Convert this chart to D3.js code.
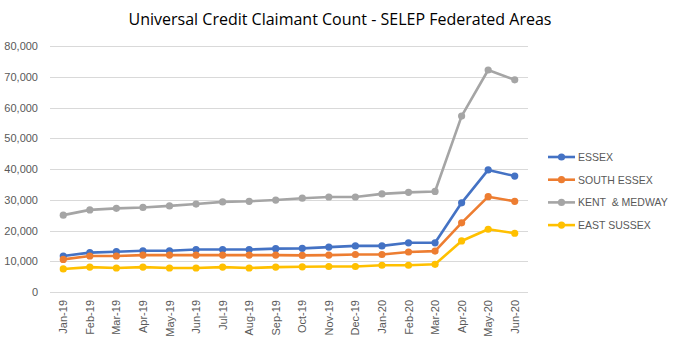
<!DOCTYPE html>
<html><head><meta charset="utf-8">
<script src="https://cdn.jsdelivr.net/npm/d3@7"></script>
<style>body{margin:0;background:#fff}svg{display:block}</style>
</head><body><svg id="c" width="679" height="350"></svg>
<script>
const months = ["Jan-19","Feb-19","Mar-19","Apr-19","May-19","Jun-19","Jul-19","Aug-19","Sep-19","Oct-19","Nov-19","Dec-19","Jan-20","Feb-20","Mar-20","Apr-20","May-20","Jun-20"];
const essex       = [11700,12800,13100,13400,13400,13800,13800,13800,14100,14200,14600,15000,15000,16000,16000,29000,39700,37700];
const southEssex  = [10600,11700,11700,12000,12000,12000,12000,12000,12000,11900,12000,12200,12200,13000,13300,22500,31000,29500];
const kentMedway  = [25000,26700,27200,27500,28000,28600,29300,29500,29900,30500,30900,30900,31900,32400,32700,57200,72200,69000];
const eastSussex  = [7500,8100,7800,8100,7800,7800,8100,7800,8100,8200,8300,8300,8700,8700,9000,16600,20400,19100];
const yTicks = [0,10000,20000,30000,40000,50000,60000,70000,80000];
const seriesNames = ["ESSEX","SOUTH ESSEX","KENT  & MEDWAY","EAST SUSSEX"];
const seriesColors = ["#4472C4","#ED7D31","#A5A5A5","#FFC000"];
const seriesData = [essex, southEssex, kentMedway, eastSussex];

(function(){
const svg = d3.select("#c");
const mLeft = 50, mRight = 528, mTop = 46, mBottom = 292;
const x = d3.scaleBand().domain(months).range([mLeft, mRight]);
const y = d3.scaleLinear().domain([0,80000]).range([mBottom, mTop]);
const font = "'Liberation Sans', Arial, sans-serif";

svg.append("text").attr("x", 340).attr("y", 25).attr("text-anchor","middle")
  .attr("font-family","'Open Sans', sans-serif").attr("font-size",16).attr("fill","#000")
  .text("Universal Credit Claimant Count - SELEP Federated Areas");

svg.append("g").selectAll("line").data(yTicks).join("line")
  .attr("x1", mLeft).attr("x2", mRight)
  .attr("y1", d=>Math.round(y(d))+0.5).attr("y2", d=>Math.round(y(d))+0.5)
  .attr("stroke","#D9D9D9").attr("stroke-width",1);

svg.append("g").selectAll("text").data(yTicks).join("text")
  .attr("x", 38).attr("y", d=>y(d)+4).attr("text-anchor","end")
  .attr("font-family",font).attr("font-size",11).attr("fill","#595959")
  .text(d=>d3.format(",")(d));

svg.append("g").selectAll("text").data(months).join("text")
  .attr("transform", d=>`translate(${x(d)+x.bandwidth()/2+4},300) rotate(-90)`)
  .attr("text-anchor","end")
  .attr("font-family",font).attr("font-size",11).attr("fill","#595959")
  .text(d=>d);

const line = d3.line().x((d,i)=>x(months[i])+x.bandwidth()/2).y(d=>y(d));
seriesData.forEach((s,k)=>{
  const g = svg.append("g");
  g.append("path").attr("d", line(s)).attr("fill","none")
    .attr("stroke", seriesColors[k]).attr("stroke-width",2.6).attr("stroke-linejoin","round");
  g.selectAll("circle").data(s).join("circle")
    .attr("cx",(d,i)=>x(months[i])+x.bandwidth()/2).attr("cy",d=>y(d)).attr("r",3.6)
    .attr("fill", seriesColors[k]);
});

const lg = svg.append("g");
seriesNames.forEach((n,k)=>{
  const ly = 157 + k*22.7;
  lg.append("line").attr("x1",548).attr("x2",575).attr("y1",ly).attr("y2",ly)
    .attr("stroke",seriesColors[k]).attr("stroke-width",2.6);
  lg.append("circle").attr("cx",561.5).attr("cy",ly).attr("r",3.6).attr("fill",seriesColors[k]);
  lg.append("text").attr("x",578).attr("y",ly+4).attr("font-family",font).attr("font-size",10.5)
    .attr("fill","#595959").attr("xml:space","preserve").style("white-space","pre").text(n);
});
})();
</script></body></html>
